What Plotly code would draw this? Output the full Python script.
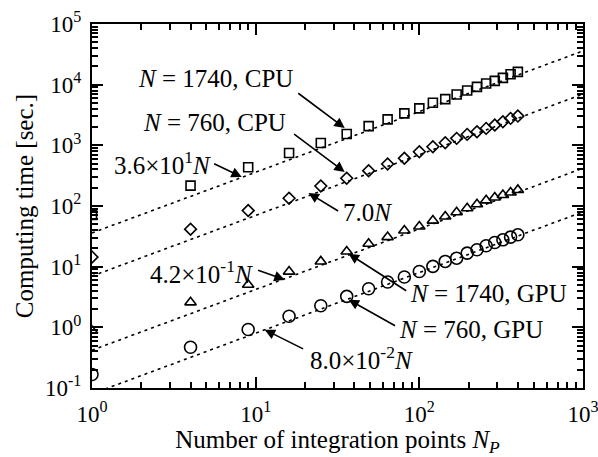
import plotly.graph_objects as go

# ---------------- data ----------------
n_points = [1, 4, 9, 16, 25, 36, 49, 64, 81, 100, 121, 144, 169, 196, 225, 256, 289, 324, 361, 400]
cpu_1740 = [71, 217, 435, 747, 1090, 1535, 2076, 2678, 3360, 4060, 5020, 5780, 6900, 8030, 9200,
            10470, 11550, 12940, 14880, 16250]
cpu_760 = [14.4, 41.5, 84, 134, 214, 287, 382, 492, 611, 785, 948, 1104, 1303, 1515, 1674,
           1902, 2158, 2445, 2780, 3033]
gpu_1740 = [0.88, 2.58, 5.04, 8.3, 12.2, 17.8, 23.8, 30.7, 39.4, 45.8, 57.5, 67, 79, 92, 107,
            124, 138, 152, 167, 184]
gpu_760 = [0.167, 0.47, 0.92, 1.52, 2.27, 3.24, 4.33, 5.58, 6.75, 8.34, 10.1, 12.2, 13.8, 16.7,
           19.0, 22.1, 25.0, 27.7, 30.7, 33.5]

fit_x = [1, 1000]
fit_coef = [36.0, 7.0, 0.42, 0.08]

x_tickvals = [1, 10, 100, 1000]
x_ticktext = ["10<sup>0</sup>", "10<sup>1</sup>", "10<sup>2</sup>", "10<sup>3</sup>"]
y_tickvals = [0.1, 1, 10, 100, 1000, 10000, 100000]
y_ticktext = ["10<sup>-1</sup>", "10<sup>0</sup>", "10<sup>1</sup>", "10<sup>2</sup>",
              "10<sup>3</sup>", "10<sup>4</sup>", "10<sup>5</sup>"]

FONT = "Liberation Serif, Times New Roman, serif"

fig = go.Figure()

# fit lines
for c in fit_coef:
    fig.add_trace(go.Scatter(x=fit_x, y=[c * v for v in fit_x], mode="lines",
                             line=dict(color="black", width=1.6, dash="3px,4px"),
                             showlegend=False, hoverinfo="skip"))

series = [
    (cpu_1740, "square-open", 9),
    (cpu_760, "diamond-open", 9),
    (gpu_1740, "triangle-up-open", 10),
    (gpu_760, "circle-open", 12),
]
for vals, sym, size in series:
    fig.add_trace(go.Scatter(x=n_points, y=vals, mode="markers",
                             marker=dict(symbol=sym, size=size, color="black",
                                         line=dict(color="black", width=1.6)),
                             showlegend=False))

# text labels (positions in log10 axis units)
labels = [
    ("<i>N</i> = 1740, CPU", 0.756, 4.107, "center"),
    ("<i>N</i> = 760, CPU", 0.751, 3.383, "center"),
    ("3.6×10<sup>1</sup><i>N</i>", 0.737, 2.709, "right"),
    ("7.0<i>N</i>", 1.524, 1.887, "left"),
    ("4.2×10<sup>-1</sup><i>N</i>", 0.994, 0.916, "right"),
    ("<i>N</i> = 1740, GPU", 1.931, 0.554, "left"),
    ("<i>N</i> = 760, GPU", 1.861, -0.038, "left"),
    ("8.0×10<sup>-2</sup><i>N</i>", 1.318, -0.498, "left"),
]
for txt, lx, ly, anc in labels:
    fig.add_annotation(x=lx, y=ly, xref="x", yref="y", text=txt, showarrow=False,
                       xanchor=anc, yanchor="middle",
                       font=dict(family=FONT, size=25, color="black"))

# arrows: (head x, head y, tail x, tail y) in log10 axis units
arrows = [
    (1.544, 3.284, 1.251, 3.877),
    (1.544, 2.561, 1.226, 3.202),
    (0.915, 2.479, 0.737, 2.709),
    (1.323, 2.215, 1.513, 1.903),
    (1.177, 0.785, 1.006, 0.949),
    (1.568, 1.212, 1.929, 0.587),
    (1.568, 0.456, 1.861, 0.012),
    (1.055, -0.038, 1.299, -0.367),
]
for hx, hy, tx, ty in arrows:
    fig.add_annotation(x=hx, y=hy, ax=tx, ay=ty, xref="x", yref="y", axref="x", ayref="y",
                       text="", showarrow=True, arrowhead=2, arrowsize=1.3, arrowwidth=1.6,
                       arrowcolor="black")

axis_common = dict(
    type="log", showline=True, linecolor="black", linewidth=2, mirror="ticks",
    ticks="inside", ticklen=11, tickwidth=1.6, tickcolor="black", showgrid=False,
    zeroline=False, tickmode="array", ticklabeloverflow="allow",
    tickfont=dict(family=FONT, size=23, color="black"),
)
minor_x = [m * 10 ** k for k in range(0, 3) for m in range(2, 10)]
minor_y = [m * 10.0 ** k for k in range(-1, 5) for m in range(2, 10)]

fig.update_xaxes(**axis_common, range=[0, 3], tickvals=x_tickvals, ticktext=x_ticktext,
                 minor=dict(tickmode="array", tickvals=minor_x, ticks="inside", ticklen=6,
                            tickwidth=1.6, tickcolor="black", showgrid=False),
                 ticklabelstandoff=4,
                 title=dict(text="Number of integration points <i>N<sub>P</sub></i>",
                            font=dict(family=FONT, size=25, color="black"), standoff=4))
fig.update_yaxes(**axis_common, range=[-1, 5], tickvals=y_tickvals, ticktext=y_ticktext,
                 minor=dict(tickmode="array", tickvals=minor_y, ticks="inside", ticklen=6,
                            tickwidth=1.6, tickcolor="black", showgrid=False),
                 ticklabelstandoff=4,
                 title=dict(text="Computing time [sec.]",
                            font=dict(family=FONT, size=25, color="black"), standoff=4))

fig.update_layout(
    width=598, height=457,
    margin=dict(l=92, r=15, t=24, b=69, autoexpand=False),
    plot_bgcolor="white", paper_bgcolor="white",
    font=dict(family=FONT, size=22, color="black"),
)

fig.write_html("out.html")
